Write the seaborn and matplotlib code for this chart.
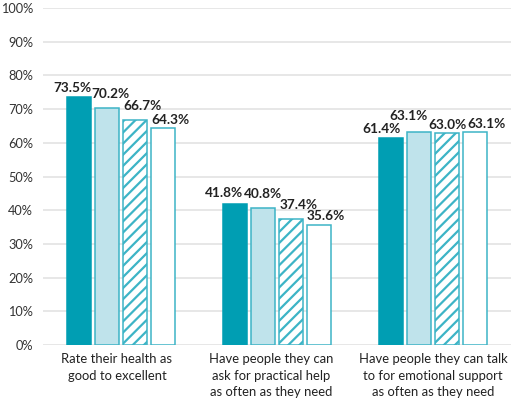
import matplotlib
matplotlib.use("Agg")
import matplotlib.pyplot as plt
import matplotlib.transforms as mtransforms
import seaborn as sns
import pandas as pd

categories = ["Rate their health as\ngood to excellent",
              "Have people they can\nask for practical help\nas often as they need",
              "Have people they can talk\nto for emotional support\nas often as they need"]
series_names = ["S1", "S2", "S3", "S4"]
s1 = [73.5, 41.8, 61.4]
s2 = [70.2, 40.8, 63.1]
s3 = [66.7, 37.4, 63.0]
s4 = [64.3, 35.6, 63.1]
yticks = [0, 10, 20, 30, 40, 50, 60, 70, 80, 90, 100]

# label placement tweaks (pixels): horizontal shift and gap above bar, per series per category
label_dx = [[-6, -11, -9], [4, 0, -10], [8, 8, 0], [7, 7, 11]]
label_gap = [[5, 7, 5], [10, 10, 12], [10, 10, 4], [4, 5, 4]]
xlabel_dx = [-4, -6, 0]

rows = []
for name, vals in zip(series_names, [s1, s2, s3, s4]):
    for c, v in zip(categories, vals):
        rows.append({"cat": c, "series": name, "value": v})
df = pd.DataFrame(rows)

sns.set_theme(style="white")
plt.rcParams['font.family'] = ['Lato', 'DejaVu Sans']
plt.rcParams['hatch.color'] = '#16A6BB'
plt.rcParams['hatch.linewidth'] = 1.6

teal = '#009EB3'
edge = '#3DB4C6'
fig = plt.figure(figsize=(5.11, 3.99), dpi=100)
ax = fig.add_axes([0.084, 0.135, 0.916, 0.845])

palette = {"S1": teal, "S2": "#BFE3EB", "S3": "white", "S4": "white"}
sns.barplot(data=df, x="cat", y="value", hue="series", palette=palette,
            width=0.72, gap=0.15, ax=ax, legend=False, saturation=1,
            edgecolor=edge, linewidth=1.1)

px = 72 / 100.0
for i, cont in enumerate(ax.containers):
    for j, bar in enumerate(cont):
        if i == 0:
            bar.set_edgecolor(teal)
        if i == 2:
            bar.set_hatch('///')
        v = cont.datavalues[j]
        ax.annotate(f"{v:.1f}%", xy=(bar.get_x() + bar.get_width() / 2, v),
                    xytext=(label_dx[i][j] * px, label_gap[i][j] * px),
                    textcoords='offset points', ha='center', va='baseline',
                    fontsize=9.8, fontweight='bold', color='#222222')

ax.set_ylim(0, 100)
ax.set_xlim(-0.5, 2.5)
ax.set_yticks(yticks)
ax.set_yticklabels([f"{t}%" for t in yticks], fontsize=9.2, color='#333333')
ax.yaxis.grid(True, color='#E3E3E3', linewidth=1.2)
ax.set_axisbelow(True)
for s in ax.spines.values():
    s.set_visible(False)
ax.tick_params(axis='y', length=0, pad=7)
ax.tick_params(axis='x', length=0, pad=6, labelsize=9.4, labelcolor='#222222')
for lab, dx in zip(ax.get_xticklabels(), xlabel_dx):
    lab.set_linespacing(1.45)
    lab.set_transform(lab.get_transform() +
                      mtransforms.ScaledTranslation(dx / 100.0, 0, fig.dpi_scale_trans))
ax.set_xlabel("")
ax.set_ylabel("")

fig.savefig("out.png", dpi=100)
